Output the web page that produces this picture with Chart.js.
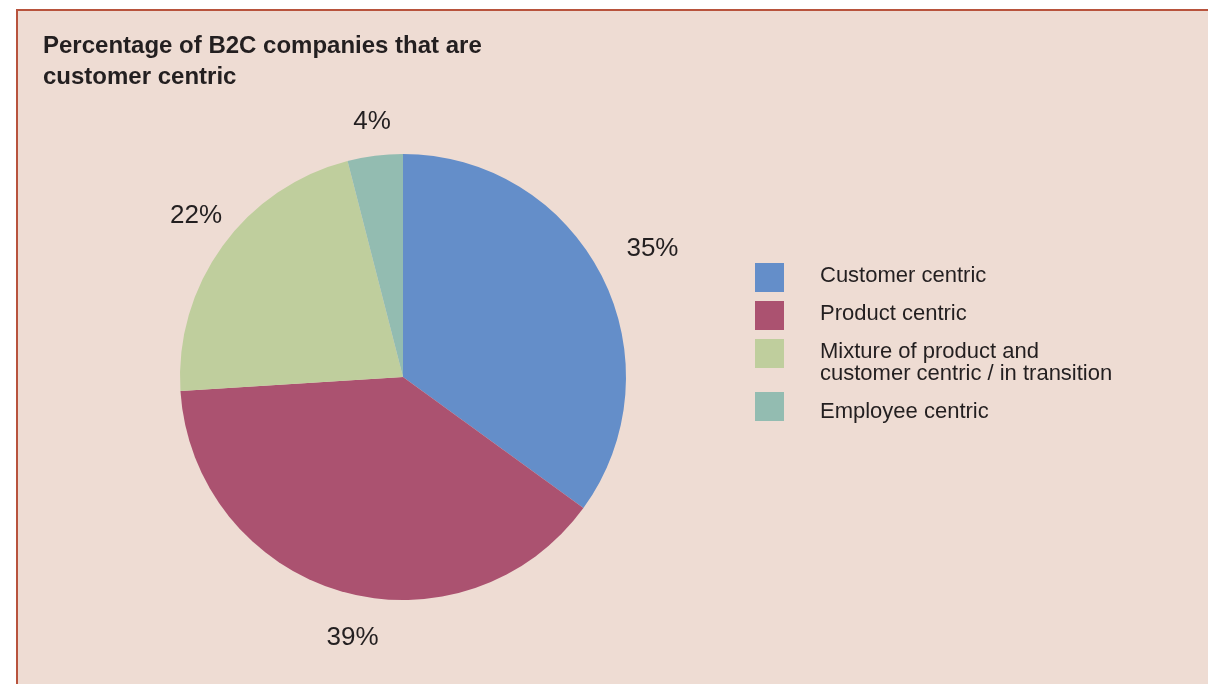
<!DOCTYPE html>
<html>
<head>
<meta charset="utf-8">
<script src="https://cdn.jsdelivr.net/npm/chart.js@4.4.1/dist/chart.umd.min.js"></script>
<style>
  html, body { margin: 0; padding: 0; background: #ffffff; overflow: hidden; }
  #panel {
    position: absolute; left: 16px; top: 9px; right: 0; bottom: 0;
    background: #eedcd3;
    border-top: 2px solid #b8533d;
    border-left: 2px solid #b8533d;
  }
  #myChart { position: absolute; left: 0; top: 0; }
</style>
</head>
<body>
<div id="panel"></div>
<canvas id="myChart" width="1208" height="684"></canvas>
<script>
// Datos del gráfico
const categorias = [
    'Customer centric',
    'Product centric',
    ['Mixture of product and', 'customer centric / in transition'],
    'Employee centric'
];
const porcentajes = [35, 39, 22, 4];
const colores = ['#648ec9', '#ab5270', '#bfce9d', '#93bcb1'];
const tituloLineas = ['Percentage of B2C companies that are', 'customer centric'];

const FUENTE = '"Liberation Sans", Arial, Helvetica, sans-serif';
const TEXTO = '#231f20';

// ajuste fino de cada etiqueta respecto a su posición radial
const ajusteEtiquetas = [[15, -9], [23, 8], [6, -7], [2, 6]];

// Título, etiquetas de porcentaje y leyenda dibujados a mano
const extras = {
    id: 'extras',
    afterDraw(chart) {
        const ctx = chart.ctx;
        ctx.save();
        ctx.fillStyle = TEXTO;

        // título
        ctx.font = 'bold 24px ' + FUENTE;
        ctx.textAlign = 'left';
        ctx.textBaseline = 'middle';
        tituloLineas.forEach((t, i) => ctx.fillText(t, 43, 46 + i * 31));

        // etiquetas fuera de cada sector
        ctx.font = '26px ' + FUENTE;
        ctx.textAlign = 'center';
        const meta = chart.getDatasetMeta(0);
        meta.data.forEach((arc, i) => {
            const p = arc.getProps(['x', 'y', 'startAngle', 'endAngle', 'outerRadius'], true);
            const mid = (p.startAngle + p.endAngle) / 2;
            const r = p.outerRadius * 1.18;
            const [dx, dy] = ajusteEtiquetas[i];
            ctx.fillText(porcentajes[i] + '%', p.x + Math.cos(mid) * r + dx, p.y + Math.sin(mid) * r + dy);
        });

        // leyenda
        ctx.textAlign = 'left';
        ctx.font = '22px ' + FUENTE;
        let yTexto = 276;
        let yCuadro = 263;
        categorias.forEach((cat, i) => {
            const lineas = Array.isArray(cat) ? cat : [cat];
            ctx.fillStyle = colores[i];
            ctx.fillRect(755, yCuadro, 29, 29);
            ctx.fillStyle = TEXTO;
            lineas.forEach((l, j) => ctx.fillText(l, 820, yTexto + j * 22));
            yTexto += lineas.length * 22 + 16;
            yCuadro += lineas.length > 1 ? 53 : 38;
        });
        ctx.restore();
    }
};

new Chart(document.getElementById('myChart').getContext('2d'), {
    type: 'pie',
    data: {
        labels: categorias,
        datasets: [{
            data: porcentajes,
            backgroundColor: colores,
            borderWidth: 0
        }]
    },
    options: {
        responsive: false,
        animation: false,
        layout: {
            padding: { left: 180, right: 582, top: 154, bottom: 84 }
        },
        plugins: {
            legend: { display: false },
            tooltip: { enabled: false }
        }
    },
    plugins: [extras]
});
</script>
</body>
</html>
